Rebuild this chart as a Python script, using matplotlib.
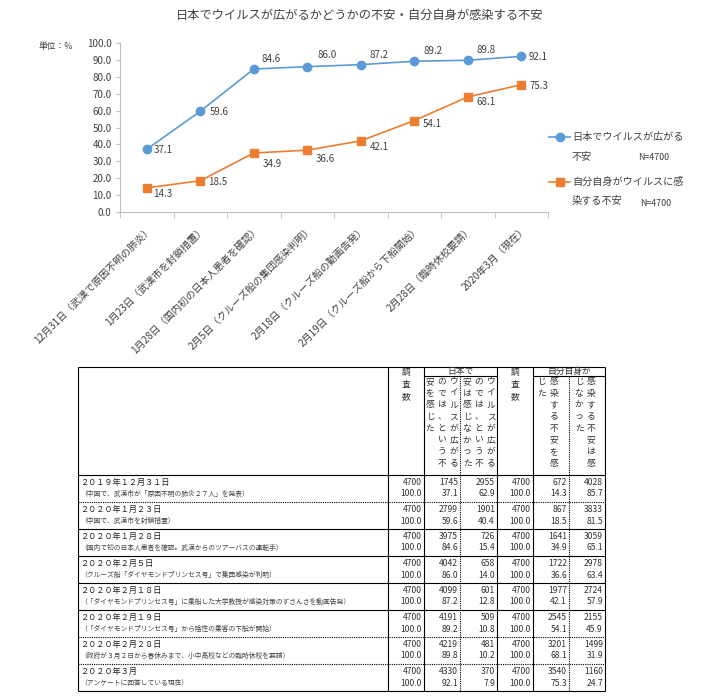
import matplotlib
matplotlib.use('Agg')
import matplotlib.pyplot as plt
import matplotlib.transforms as mtrans
import numpy as np

plt.rcParams['font.family'] = ['Noto Sans CJK JP', 'DejaVu Sans']

# ---------------- data ----------------
title = '日本でウイルスが広がるかどうかの不安・自分自身が感染する不安'
unit_label = '単位：%'
categories = [
    '12月31日（武漢で原因不明の肺炎）',
    '1月23日（武漢市を封鎖措置）',
    '1月28日（国内初の日本人患者を確認）',
    '2月5日（クルーズ船の集団感染判明）',
    '2月18日（クルーズ船の動画告発）',
    '2月19日（クルーズ船から下船開始）',
    '2月28日（臨時休校要請）',
    '2020年3月（現在）',
]
spread_pct = [37.1, 59.6, 84.6, 86.0, 87.2, 89.2, 89.8, 92.1]
infect_pct = [14.3, 18.5, 34.9, 36.6, 42.1, 54.1, 68.1, 75.3]
legend_spread = ['日本でウイルスが広がる', '不安']
legend_infect = ['自分自身がウイルスに感', '染する不安']
legend_n = 'N=4700'
yticks = [0, 10, 20, 30, 40, 50, 60, 70, 80, 90, 100]

row_dates = [
    '２０１９年１２月３１日',
    '２０２０年１月２３日',
    '２０２０年１月２８日',
    '２０２０年２月５日',
    '２０２０年２月１８日',
    '２０２０年２月１９日',
    '２０２０年２月２８日',
    '２０２０年３月',
]
row_descs = [
    '（中国で、武漢市が「原因不明の肺炎２７人」を発表）',
    '（中国で、武漢市を封鎖措置）',
    '（国内で初の日本人患者を確認。武漢からのツアーバスの運転手）',
    '（クルーズ船「ダイヤモンドプリンセス号」で集団感染が判明）',
    '（「ダイヤモンドプリンセス号」に乗船した大学教授が感染対策のずさんさを動画告発）',
    '（「ダイヤモンドプリンセス号」から陰性の乗客の下船が開始）',
    '（政府が３月２日から春休みまで、小中高校などの臨時休校を要請）',
    '（アンケートに回答している現在）',
]
sample_n = [4700, 4700, 4700, 4700, 4700, 4700, 4700, 4700]
sample_pct = [100.0, 100.0, 100.0, 100.0, 100.0, 100.0, 100.0, 100.0]
spread_yes_n = [1745, 2799, 3975, 4042, 4099, 4191, 4219, 4330]
spread_no_n = [2955, 1901, 726, 658, 601, 509, 481, 370]
spread_no_pct = [62.9, 40.4, 15.4, 14.0, 12.8, 10.8, 10.2, 7.9]
infect_yes_n = [672, 867, 1641, 1722, 1977, 2545, 3201, 3540]
infect_no_n = [4028, 3833, 3059, 2978, 2724, 2155, 1499, 1160]
infect_no_pct = [85.7, 81.5, 65.1, 63.4, 57.9, 45.9, 31.9, 24.7]
# separator style below each row: True = dotted
row_sep_dotted = [True, False, False, False, False, True, True, False]

head_n = '調査数'
head_spread = '日本で'
head_infect = '自分自身が'
# vertical header columns (left to right on the page)
head_spread_yes = ['安を感じた', 'のでは、という不', 'ウイルスが広がる']
head_spread_no = ['安は感じなかった', 'のでは、という不', 'ウイルスが広がる']
head_infect_yes = ['じた', '感染する不安を感']
head_infect_no = ['じなかった', '感染する不安は感']

# label offsets (pixels, right / down)
spread_off = [(16, 1), (19, 1), (17, -10), (20, -12), (18, -10), (19, -10), (18, -10), (17, 1)]
infect_off = [(16, 6), (17, 1), (18, 11), (18, 9), (19, 6), (18, 3), (18, 5), (18, 1)]

BLUE = '#5B9BD5'
ORANGE = '#ED7D31'
TXT = '#404040'
AXC = '#BFBFBF'

# ---------------- figure ----------------
fig = plt.figure(figsize=(7.2, 7.0), dpi=100)
ov = fig.add_axes([0, 0, 1, 1], zorder=0)
ov.set_xlim(0, 720)
ov.set_ylim(700, 0)
ov.axis('off')

# chart axes: x 120..548 px, y 43..212 px
ax = fig.add_axes([120 / 720, (700 - 212) / 700, 428 / 720, 169 / 700], zorder=1)
ax.patch.set_alpha(0)
x = np.arange(len(categories))
ax.plot(x, spread_pct, color=BLUE, marker='o', ms=6, lw=1.2, zorder=3)
ax.plot(x, infect_pct, color=ORANGE, marker='s', ms=5.5, lw=1.2, zorder=3)
for i, v in enumerate(spread_pct):
    dx, dy = spread_off[i]
    ax.annotate(f'{v:.1f}', (i, v), xytext=(dx, -dy), textcoords='offset pixels',
                ha='center', va='center', fontsize=7, color=TXT)
for i, v in enumerate(infect_pct):
    dx, dy = infect_off[i]
    ax.annotate(f'{v:.1f}', (i, v), xytext=(dx, -dy), textcoords='offset pixels',
                ha='center', va='center', fontsize=7, color=TXT)

ax.set_xlim(-0.5, len(categories) - 0.5)
ax.set_ylim(0, 100)
ax.set_yticks(yticks)
ax.set_yticklabels([f'{t:.1f}' for t in yticks])
ax.tick_params(axis='y', labelsize=7, labelcolor=TXT, length=3, color=AXC, pad=3)
ax.set_xticks(x)
ax.set_xticklabels(categories, rotation=45, ha='right', va='center',
                   rotation_mode='anchor', fontsize=7.2, color=TXT)
ax.tick_params(axis='x', which='major', length=0, pad=11)
ax.set_xticks(np.arange(-0.5, len(categories), 1), minor=True)
ax.tick_params(axis='x', which='minor', length=4, color=AXC)
shift = mtrans.ScaledTranslation(4 / 100, 0, fig.dpi_scale_trans)
for lab in ax.get_xticklabels():
    lab.set_transform(lab.get_transform() + shift)
for s in ['top', 'right']:
    ax.spines[s].set_visible(False)
for s in ['left', 'bottom']:
    ax.spines[s].set_color(AXC)
    ax.spines[s].set_linewidth(0.8)

# title, unit
ov.text(360, 15, title, ha='center', va='center', fontsize=8.8, color=TXT)
ov.text(56, 47, unit_label, ha='center', va='center', fontsize=6.3, color=TXT)

# legend
ov.plot([549, 570], [137, 137], color=BLUE, lw=1.2)
ov.plot([559.5], [137], color=BLUE, marker='o', ms=6)
ov.text(572, 137, legend_spread[0], ha='left', va='center', fontsize=7.3, color=TXT)
ov.text(572, 157, legend_spread[1], ha='left', va='center', fontsize=7.3, color=TXT)
ov.text(638, 158, legend_n, ha='left', va='center', fontsize=6.4, color=TXT)
ov.plot([549, 570], [182, 182], color=ORANGE, lw=1.2)
ov.plot([559.5], [182], color=ORANGE, marker='s', ms=5.5)
ov.text(572, 182, legend_infect[0], ha='left', va='center', fontsize=7.3, color=TXT)
ov.text(572, 201, legend_infect[1], ha='left', va='center', fontsize=7.3, color=TXT)
ov.text(640, 203, legend_n, ha='left', va='center', fontsize=6.4, color=TXT)

# ---------------- table ----------------
TL, TR = 78, 605
TTOP, HBOT = 367, 475
RH = 27
TBOT = HBOT + RH * len(row_dates)
colx = [78, 388, 424, 460, 497, 533, 569, 605]
LW = 0.8
DOT = (0, (1, 1))
tc = '#333333'


def hline(y, x0, x1, dotted=False):
    ov.plot([x0, x1], [y, y], color='black', lw=LW, ls=DOT if dotted else '-',
            solid_capstyle='butt')


def vline(xp, y0, y1, dotted=False):
    ov.plot([xp, xp], [y0, y1], color='black', lw=LW, ls=DOT if dotted else '-',
            solid_capstyle='butt')


hline(TTOP, TL, TR)
hline(376, 424, 497)
hline(376, 533, 605)
hline(HBOT, TL, TR)
for i, d in enumerate(row_sep_dotted):
    hline(HBOT + RH * (i + 1), TL, TR, dotted=d)
for xp in [78, 388, 424, 497, 533, 605]:
    vline(xp, TTOP, TBOT)
vline(460, 376, TBOT, dotted=True)
vline(569, 376, TBOT, dotted=True)

# header
hs = 6.3
for cx in [406, 515]:
    for k, ch in enumerate(head_n):
        ov.text(cx, 372 + 12.3 * k, ch, ha='center', va='center', fontsize=hs, color=tc)
ov.text(460.5, 371.5, head_spread, ha='center', va='center', fontsize=hs, color=tc)
ov.text(569, 371.5, head_infect, ha='center', va='center', fontsize=hs, color=tc)


def vert(cols, xs):
    for s, cx in zip(cols, xs):
        for k, ch in enumerate(s):
            ov.text(cx, 381.5 + 11.7 * k, ch, ha='center', va='center',
                    fontsize=hs, color=tc)


vert(head_spread_yes, [430, 442, 454])
vert(head_spread_no, [467, 479, 491])
vert(head_infect_yes, [541, 554])
vert(head_infect_no, [579, 591])

# rows
num_cols = [
    (sample_n, sample_pct),
    (spread_yes_n, spread_pct),
    (spread_no_n, spread_no_pct),
    (sample_n, sample_pct),
    (infect_yes_n, infect_pct),
    (infect_no_n, infect_no_pct),
]
for i in range(len(row_dates)):
    top = HBOT + RH * i
    ov.text(80, top + 7.5, row_dates[i], ha='left', va='center', fontsize=5.9, color='#222222')
    ov.text(80, top + 19, row_descs[i], ha='left', va='center', fontsize=4.9, color='#444444')
    for j, (ns, ps) in enumerate(num_cols):
        xr = colx[j + 2] - 2
        ov.text(xr, top + 7.5, f'{ns[i]}', ha='right', va='center', fontsize=6.2, color=tc)
        ov.text(xr, top + 19, f'{ps[i]:.1f}', ha='right', va='center', fontsize=6.2, color=tc)

fig.savefig('out.png', dpi=100)
